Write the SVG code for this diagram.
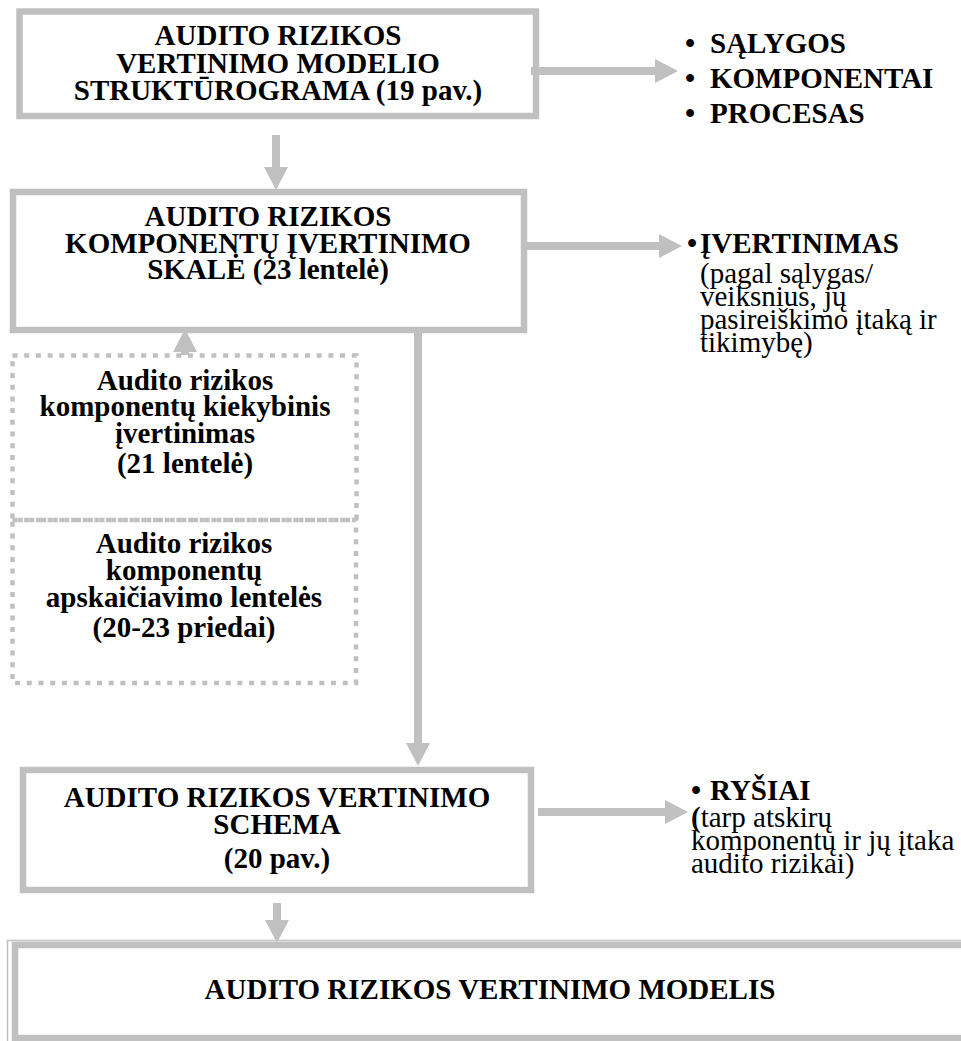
<svg xmlns="http://www.w3.org/2000/svg" width="961" height="1041" viewBox="0 0 961 1041">
<style>
.box{fill:#ffffff;stroke:#c0c0c0;stroke-width:6.5}
.dot{fill:none;stroke:#c0c0c0;stroke-width:4.5;stroke-dasharray:5 6.7}
.conn{stroke:#c0c0c0;stroke-width:8;fill:none}
.b{font-family:"Liberation Serif","Times New Roman",serif;font-weight:bold;font-size:29px;fill:#000}
.r{font-family:"Liberation Serif","Times New Roman",serif;font-size:29px;fill:#000}
.c{text-anchor:middle}
</style>
<defs>
<marker id="ah" markerUnits="userSpaceOnUse" markerWidth="23" markerHeight="24" refX="0" refY="12" orient="auto">
<path d="M0,0 L23,12 L0,24 Z" fill="#c0c0c0"/>
</marker>
</defs>
<rect x="0" y="0" width="961" height="1041" fill="#ffffff"/>

<g id="node-structurograma">
<rect class="box" x="19.5" y="11.5" width="516.5" height="104.5"/>
<text class="b c" x="278" y="45">AUDITO RIZIKOS</text>
<text class="b c" x="278" y="73">VERTINIMO MODELIO</text>
<text class="b c" x="278" y="100">STRUKTŪROGRAMA (19 pav.)</text>
</g>

<g id="node-skale">
<rect class="box" x="13" y="192" width="511" height="138"/>
<text class="b c" x="268" y="226">AUDITO RIZIKOS</text>
<text class="b c" x="268" y="253">KOMPONENTŲ ĮVERTINIMO</text>
<text class="b c" x="268" y="279">SKALĖ (23 lentelė)</text>
</g>

<g id="node-kiekybinis">
<path class="dot" d="M12.5,355.5 H356.5 V520 H12.5 Z"/>
<text class="b c" x="185" y="390">Audito rizikos</text>
<text class="b c" x="185" y="416">komponentų kiekybinis</text>
<text class="b c" x="185" y="443">įvertinimas</text>
<text class="b c" x="185" y="473">(21 lentelė)</text>
</g>

<g id="node-apskaiciavimo">
<path class="dot" d="M12.5,520 H356 V683 H12.5 Z"/>
<text class="b c" x="184" y="553">Audito rizikos</text>
<text class="b c" x="184" y="580">komponentų</text>
<text class="b c" x="184" y="607">apskaičiavimo lentelės</text>
<text class="b c" x="184" y="637">(20-23 priedai)</text>
</g>

<g id="node-schema">
<rect class="box" x="23" y="770" width="508" height="120"/>
<text class="b c" x="277" y="807">AUDITO RIZIKOS VERTINIMO</text>
<text class="b c" x="277" y="834">SCHEMA</text>
<text class="b c" x="277" y="868">(20 pav.)</text>
</g>

<g id="node-modelis">
<rect x="7.5" y="940.5" width="1000" height="120" fill="none" stroke="#c0c0c0" stroke-width="1.5"/>
<rect class="box" x="15" y="945" width="1000" height="93" stroke-width="6"/>
<text class="b c" x="490" y="999">AUDITO RIZIKOS VERTINIMO MODELIS</text>
</g>

<g id="note-salygos">
<text class="b" x="685" y="53">•</text>
<text class="b" x="710" y="53">SĄLYGOS</text>
<text class="b" x="685" y="88">•</text>
<text class="b" x="710" y="88">KOMPONENTAI</text>
<text class="b" x="685" y="123">•</text>
<text class="b" x="710" y="123">PROCESAS</text>
</g>

<g id="note-ivertinimas">
<text class="b" x="687" y="253">•</text>
<text class="b" x="700" y="253">ĮVERTINIMAS</text>
<text class="r" x="700" y="283">(pagal sąlygas/</text>
<text class="r" x="700" y="306">veiksnius, jų</text>
<text class="r" x="700" y="329">pasireiškimo įtaką ir</text>
<text class="r" x="700" y="352">tikimybę)</text>
</g>

<g id="note-rysiai">
<text class="b" x="691" y="800">•</text>
<text class="b" x="710" y="800">RYŠIAI</text>
<text class="r" x="691" y="827"><tspan font-weight="bold">(</tspan>tarp atskirų</text>
<text class="r" x="691" y="850">komponentų ir jų įtaka</text>
<text class="r" x="691" y="873">audito rizikai)</text>
</g>

<g id="connectors">
<line class="conn" x1="276" y1="135" x2="276" y2="167" marker-end="url(#ah)"/>
<line class="conn" x1="185" y1="355" x2="185" y2="352" marker-end="url(#ah)"/>
<line class="conn" x1="418" y1="333" x2="418" y2="743" marker-end="url(#ah)"/>
<line class="conn" x1="277" y1="903" x2="277" y2="920" marker-end="url(#ah)"/>
<line class="conn" x1="531" y1="71" x2="655" y2="71" marker-end="url(#ah)"/>
<line class="conn" x1="527" y1="246" x2="659" y2="246" marker-end="url(#ah)"/>
<line class="conn" x1="538" y1="812" x2="665" y2="812" marker-end="url(#ah)"/>
</g>
</svg>
